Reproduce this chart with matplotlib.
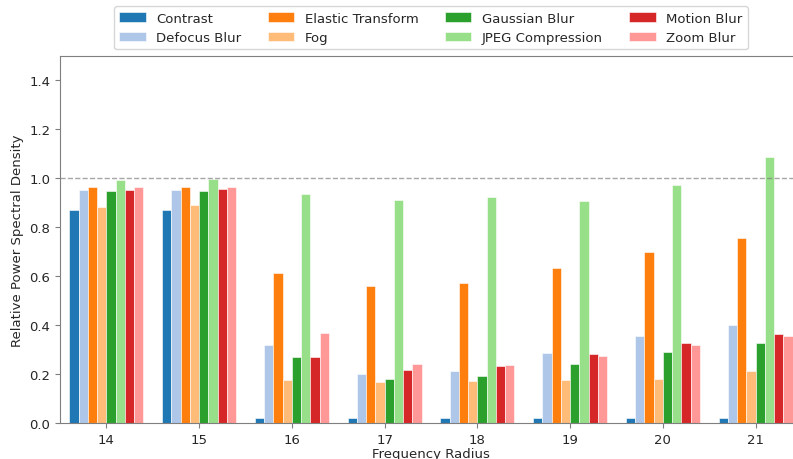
import numpy as np
import matplotlib
matplotlib.use("Agg")
import matplotlib.pyplot as plt

radii = [14, 15, 16, 17, 18, 19, 20, 21]
series_names = ["Contrast", "Defocus Blur", "Elastic Transform", "Fog",
                "Gaussian Blur", "JPEG Compression", "Motion Blur", "Zoom Blur"]
contrast = [0.872, 0.872, 0.020, 0.020, 0.020, 0.020, 0.020, 0.020]
defocus = [0.954, 0.954, 0.320, 0.200, 0.214, 0.287, 0.355, 0.401]
elastic = [0.966, 0.966, 0.615, 0.561, 0.574, 0.633, 0.699, 0.758]
fog = [0.882, 0.891, 0.174, 0.167, 0.170, 0.174, 0.181, 0.214]
gaussian = [0.947, 0.947, 0.268, 0.180, 0.193, 0.242, 0.291, 0.327]
jpeg = [0.992, 0.997, 0.937, 0.910, 0.924, 0.907, 0.973, 1.087]
motion = [0.954, 0.956, 0.271, 0.216, 0.234, 0.282, 0.327, 0.362]
zoom = [0.963, 0.966, 0.369, 0.241, 0.238, 0.275, 0.320, 0.355]
all_series = [contrast, defocus, elastic, fog, gaussian, jpeg, motion, zoom]
colors = plt.get_cmap("tab20").colors[:8]

plt.rcParams.update({
    "font.size": 9.5,
    "text.color": "#262626",
    "axes.labelcolor": "#262626",
    "axes.edgecolor": "#7f7f7f",
    "xtick.color": "#7f7f7f",
    "ytick.color": "#7f7f7f",
    "xtick.labelcolor": "#262626",
    "ytick.labelcolor": "#262626",
})

fig = plt.figure(figsize=(7.93, 4.60), dpi=100)
ax = fig.add_axes([60/793, 1 - 424/460, (802 - 60)/793, (424 - 57)/460])

x = np.arange(len(radii))
w = 0.1
for i, (name, vals) in enumerate(zip(series_names, all_series)):
    ax.bar(x + (i - 3.5) * w, vals, w, label=name, color=colors[i],
           edgecolor="white", linewidth=0.4)

ax.axhline(1.0, color="gray", linestyle="--", linewidth=1, alpha=0.7)
ax.set_xticks(x)
ax.set_xticklabels([str(r) for r in radii])
ax.set_xlim(-0.5, len(radii) - 0.5)
ax.set_ylim(0, 1.5)
ax.set_yticks(np.arange(0, 1.41, 0.2))
ax.set_xlabel("Frequency Radius", labelpad=1)
ax.set_ylabel("Relative Power Spectral Density")
ax.legend(loc="lower center", bbox_to_anchor=(0.5, 1.0), ncol=4)

fig.savefig("out.png", dpi=100)
